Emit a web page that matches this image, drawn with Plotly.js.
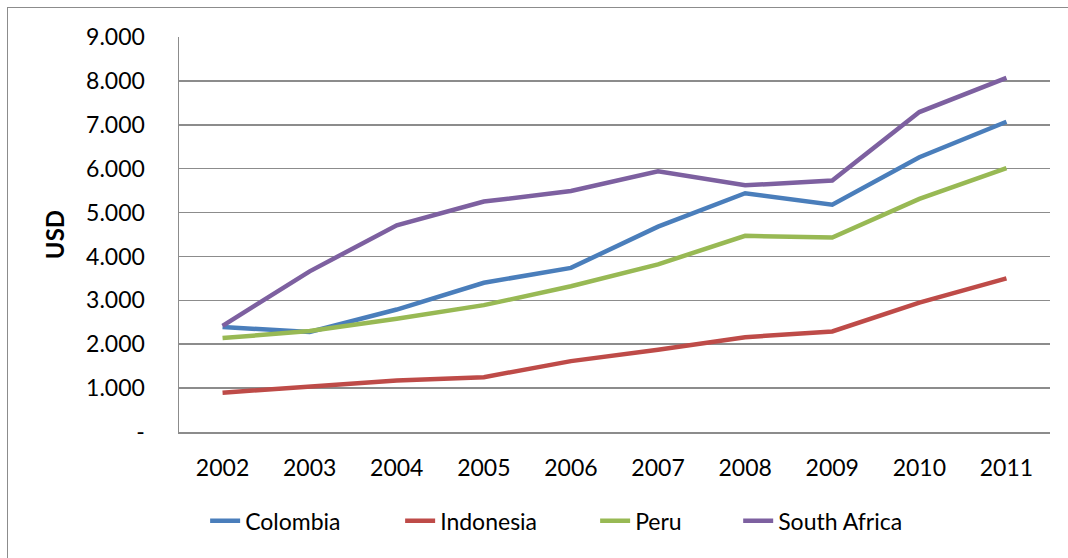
<!DOCTYPE html>
<html>
<head>
<meta charset="utf-8">
<script src="https://cdn.plot.ly/plotly-3.0.1.min.js"></script>
<style>
  html, body { margin: 0; padding: 0; background: #fff; overflow: hidden; }
  #chart { width: 1068px; height: 558px; position: absolute; left: 0; top: 0; }
  #frame { position: absolute; left: 7px; top: 7px; width: 1200px; height: 700px;
           border-left: 1.5px solid #8c8c8c; border-top: 1.5px solid #8c8c8c; pointer-events: none; }
</style>
</head>
<body>
<div id="chart"></div>
<div id="frame"></div>
<script>
const years = ['2002','2003','2004','2005','2006','2007','2008','2009','2010','2011'];
const colombia    = [2390, 2280, 2790, 3400, 3740, 4680, 5440, 5180, 6260, 7070];
const indonesia   = [ 895, 1045, 1175, 1250, 1615, 1875, 2160, 2290, 2950, 3500];
const peru        = [2140, 2300, 2580, 2890, 3320, 3820, 4470, 4430, 5310, 6010];
const southAfrica = [2420, 3660, 4710, 5250, 5490, 5940, 5620, 5730, 7290, 8070];
const yTickVals   = [0, 1000, 2000, 3000, 4000, 5000, 6000, 7000, 8000, 9000];
const yTickText   = ['-', '1.000', '2.000', '3.000', '4.000', '5.000', '6.000', '7.000', '8.000', '9.000'];

const FONT = 'Lato, "Open Sans", sans-serif';
const mk = (name, y, color, lg) => ({
  type: 'scatter', mode: 'lines', name: name, x: years, y: y,
  line: { color: color, width: 4.5 }, legend: lg
});

const data = [
  mk('Colombia', colombia, '#4A7EBB', 'legend'),
  mk('Indonesia', indonesia, '#BE4B48', 'legend'),
  mk('Peru', peru, '#98B954', 'legend'),
  mk('South Africa', southAfrica, '#7D60A0', 'legend2')
];

const legendBase = {
  orientation: 'h', xanchor: 'left', y: -0.225, yanchor: 'middle',
  font: { family: FONT, size: 23, color: '#000' },
  itemwidth: 30, bgcolor: 'rgba(0,0,0,0)'
};

const layout = {
  width: 1068, height: 558,
  margin: { l: 179, r: 18, t: 37, b: 126 },
  paper_bgcolor: 'rgba(0,0,0,0)', plot_bgcolor: '#fff',
  font: { family: FONT, size: 23, color: '#000' },
  showlegend: true,
  legend: Object.assign({}, legendBase, { x: 0.03, entrywidth: 150, entrywidthmode: 'pixels' }),
  legend2: Object.assign({}, legendBase, { x: 0.642 }),
  xaxis: {
    type: 'category', range: [-0.5, 9.5],
    showgrid: false, showline: true, linecolor: '#8c8c8c', linewidth: 1.5,
    ticks: '', ticklabelstandoff: 15, zeroline: false, fixedrange: true,
    tickfont: { family: FONT, size: 23, color: '#000' }
  },
  yaxis: {
    range: [0, 9000], tickvals: yTickVals, ticktext: yTickText,
    showgrid: true, gridcolor: '#8c8c8c', gridwidth: 1.5,
    showline: true, linecolor: '#8c8c8c', linewidth: 1.5,
    ticks: '', ticklabelstandoff: 28, zeroline: false, fixedrange: true,
    tickfont: { family: FONT, size: 23, color: '#000' },
    title: { text: '<b>USD</b>', font: { family: FONT, size: 24, color: '#000' }, standoff: 14 }
  }
};

Plotly.newPlot('chart', data, layout, { displayModeBar: false, staticPlot: true });
</script>
</body>
</html>
